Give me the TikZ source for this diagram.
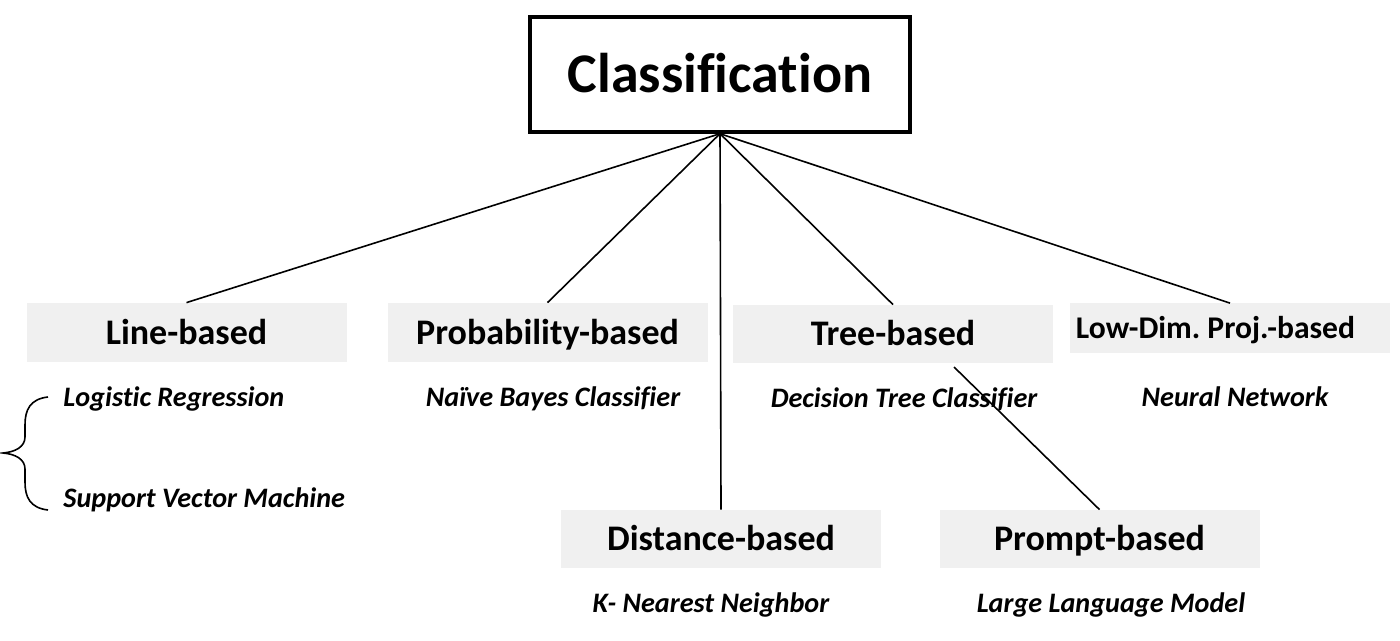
\documentclass[tikz,border=0pt]{standalone}
\usepackage{fontspec}
\setmainfont{Carlito}[Ligatures=NoCommon]
\frenchspacing
\begin{document}
\begin{tikzpicture}[x=0.5pt,y=-0.5pt,
  cat/.style={fill=black!6, minimum width=160pt, minimum height=29.5pt, inner sep=0pt, text height=11.6pt, text depth=0pt, font=\bfseries\fontsize{18}{20}\selectfont},
  algo/.style={inner sep=0pt, text height=9pt, text depth=0pt, font=\bfseries\itshape\fontsize{14.1}{16}\selectfont},
  conn/.style={draw=black, line width=0.8pt}]
\useasboundingbox (0,0) rectangle (1400,641);
\node[draw=black, line width=1.7pt, minimum width=190pt, minimum height=57.5pt, inner sep=0pt, text height=18pt, text depth=0pt, font=\bfseries\fontsize{28}{30}\selectfont] (cls) at (720,74.5) {Classification};
\node[cat] (line) at (186.5,332.5) {Line-based};
\node[cat] (prob) at (547.5,332.5) {Probability-based};
\node[cat, minimum height=29pt] (tree) at (893,334) {Tree-based};
\node[cat, minimum height=24.5pt, text height=10pt, font=\bfseries\fontsize{15.8}{17}\selectfont] (low) at (1230,328) {Low-Dim. Proj.-based\kern14.5pt};
\node[cat, minimum height=29pt] (dist) at (721,539) {Distance-based};
\node[cat, minimum height=29pt] (prompt) at (1099.5,539) {Prompt-based};
\node[algo, anchor=west] (lr) at (63,397) {Logistic Regression};
\node[algo, anchor=west] (svm) at (63,498) {Support Vector Machine};
\node[algo] (nb) at (553,397) {Naïve Bayes Classifier};
\node[algo] (dt) at (904,398) {Decision Tree Classifier};
\node[algo] (nn) at (1235,397) {Neural Network};
\node[algo] (knn) at (711,603) {K- Nearest Neighbor};
\node[algo] (llm) at (1111,603) {Large Language Model};
\coordinate (treeout) at (954,367);
\draw[conn] (cls.south) -- (line.north);
\draw[conn] (cls.south) -- (prob.north);
\draw[conn] (cls.south) -- (dist.north);
\draw[conn] (cls.south) -- (tree.north);
\draw[conn] (cls.south) -- (low.north);
\draw[conn] (treeout) -- (prompt.north);
\draw[conn] (48,397) .. controls (30,399) and (25,410) .. (25,425)
  -- (25,437) .. controls (25,447) and (15,452) .. (3,453)
  .. controls (15,454) and (25,459) .. (25,469)
  -- (25,482) .. controls (25,497) and (30,508) .. (48,510);
\end{tikzpicture}
\end{document}
